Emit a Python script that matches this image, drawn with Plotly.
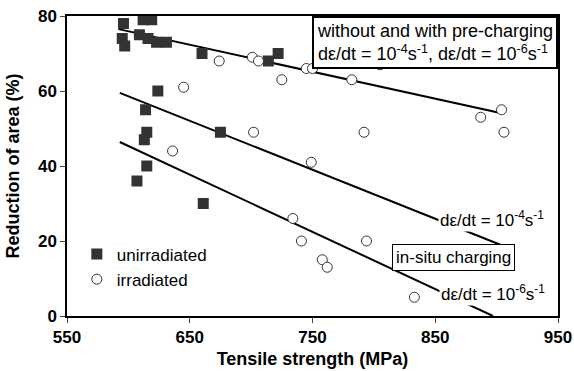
import plotly.graph_objects as go

# Data
unirr_x = [596, 612, 619, 595, 597, 609, 616, 623, 631, 660, 714, 722, 624, 614, 615, 613, 615, 607, 675, 661]
unirr_y = [78, 79, 79, 74, 72, 75, 74, 73, 73, 70, 68, 70, 60, 55, 49, 47, 40, 36, 49, 30]

irr_x = [674, 701, 706, 645, 702, 636, 725, 745, 750, 782, 792, 805, 904, 887, 906, 749, 734, 741, 794, 758, 762, 833]
irr_y = [68, 69, 68, 61, 49, 44, 63, 66, 66, 63, 49, 67, 55, 53, 49, 41, 26, 20, 20, 15, 13, 5]

fit_pre_x = [592, 905]
fit_pre_y = [76.5, 54]
fit_e4_x = [593, 903]
fit_e4_y = [59.5, 19]
fit_e6_x = [593, 897]
fit_e6_y = [46.4, 0]

x_ticks = [550, 650, 750, 850, 950]
y_ticks = [0, 20, 40, 60, 80]

FONT = "Liberation Sans, Arial, sans-serif"

fig = go.Figure()

for fx, fy in [(fit_pre_x, fit_pre_y), (fit_e4_x, fit_e4_y), (fit_e6_x, fit_e6_y)]:
    fig.add_trace(go.Scatter(x=fx, y=fy, mode="lines", line=dict(color="black", width=2),
                             showlegend=False, hoverinfo="skip"))

fig.add_trace(go.Scatter(x=unirr_x, y=unirr_y, mode="markers", name="unirradiated",
                         marker=dict(symbol="square", size=11, color="#333333",
                                     line=dict(width=0))))
fig.add_trace(go.Scatter(x=irr_x, y=irr_y, mode="markers", name="irradiated",
                         marker=dict(symbol="circle", size=10, color="white",
                                     line=dict(width=1, color="#333333"))))

fig.add_annotation(x=896, y=25.9, xref="x", yref="y",
                   text="dε/dt = 10<sup>-4</sup>s<sup>-1</sup>", showarrow=False,
                   bgcolor="white", font=dict(size=17, color="black", family=FONT))
fig.add_annotation(x=897, y=6.1, xref="x", yref="y",
                   text="dε/dt = 10<sup>-6</sup>s<sup>-1</sup>", showarrow=False,
                   bgcolor="white", font=dict(size=17, color="black", family=FONT))
fig.add_annotation(x=865, y=15.5, xref="x", yref="y",
                   text="in-situ charging", showarrow=False,
                   bgcolor="white", bordercolor="black", borderwidth=1, borderpad=3,
                   font=dict(size=17, color="black", family=FONT))
fig.add_annotation(x=1, y=1, xref="paper", yref="paper", xanchor="right", yanchor="top",
                   text="without and with pre-charging<br>dε/dt = 10<sup>-4</sup>s<sup>-1</sup>, dε/dt = 10<sup>-6</sup>s<sup>-1</sup>",
                   showarrow=False, align="left",
                   bgcolor="white", bordercolor="black", borderwidth=2, borderpad=3,
                   font=dict(size=18, color="black", family=FONT))

fig.update_layout(
    width=574, height=371,
    margin=dict(l=67, r=16, t=16, b=55, autoexpand=False),
    paper_bgcolor="white", plot_bgcolor="white",
    font=dict(family=FONT, color="black"),
    showlegend=True,
    legend=dict(x=0.02, y=0.265, xanchor="left", yanchor="top",
                bgcolor="rgba(0,0,0,0)", font=dict(size=17, family=FONT),
                itemwidth=30, tracegroupgap=0),
    xaxis=dict(range=[550, 950], tickvals=x_ticks,
               ticktext=[f"<b>{v}</b>" for v in x_ticks],
               ticks="outside", ticklen=5, automargin=False, ticklabeloverflow="allow",
               showgrid=False, zeroline=False, showline=True, linecolor="black",
               linewidth=1.5, mirror=True,
               tickfont=dict(size=17, family=FONT),
               title=dict(text="<b>Tensile strength (MPa)</b>", font=dict(size=18, family=FONT), standoff=6)),
    yaxis=dict(range=[0, 80], tickvals=y_ticks,
               ticktext=[f"<b>{v}</b>" for v in y_ticks],
               ticks="outside", ticklen=5, automargin=False, ticklabeloverflow="allow",
               showgrid=False, zeroline=False, showline=True, linecolor="black",
               linewidth=1.5, mirror=True,
               tickfont=dict(size=17, family=FONT),
               title=dict(text="<b>Reduction of area (%)</b>", font=dict(size=18, family=FONT), standoff=14)),
)

fig.write_html("out.html", config={"displayModeBar": False},
               post_script="document.body.style.margin='0';document.body.style.overflow='hidden';")
